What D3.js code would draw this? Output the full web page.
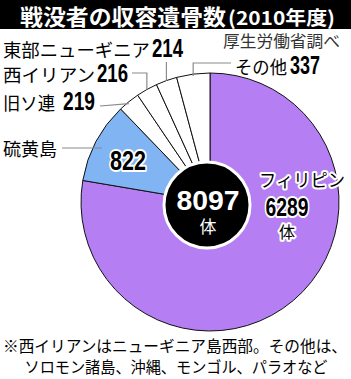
<!DOCTYPE html>
<html><head><meta charset="utf-8">
<script src="https://cdn.jsdelivr.net/npm/d3@7"></script>
<style>
body{margin:0;background:#fff;}
svg{display:block;}
</style></head>
<body>
<svg id="c" width="351" height="379"></svg>
<script>
const categories = ["フィリピン","硫黄島","旧ソ連","西イリアン","東部ニューギニア","その他"];
const values = [6289, 822, 219, 216, 214, 337];
const total = 8097;
const title = "戦没者の収容遺骨数";
const titleYear = "(2010年度)";
const source = "厚生労働省調べ";
const unit = "体";
const notes = ["※西イリアンはニューギニア島西部。その他は、","ソロモン諸島、沖縄、モンゴル、パラオなど"];
const colors = ["#b57ff3","#80b4f3","#ffffff","#ffffff","#ffffff","#ffffff"];

const JP = "'Noto Sans CJK JP','Noto Sans',sans-serif";
const NUM = "'Liberation Sans',Arial,sans-serif";
const svg = d3.select("#c");

function txt(x,y,s,opt){
  const t = svg.append("text").attr("x",x).attr("y",y).text(s)
    .attr("text-anchor",opt.anchor||"start").attr("fill",opt.fill||"#000")
    .style("font-family",opt.fam||JP).style("font-size",opt.size||"18px")
    .style("font-weight",opt.weight||"normal");
  if(opt.len){t.attr("textLength",opt.len).attr("lengthAdjust","spacingAndGlyphs");}
  if(opt.halo){t.attr("stroke","#fff").attr("stroke-width",opt.halo).attr("stroke-linejoin","round").attr("paint-order","stroke");}
  return t;
}

// title bar
svg.append("rect").attr("x",0).attr("y",0).attr("width",351).attr("height",29).attr("fill","#000");
txt(20,25,title,{size:"22px",weight:"bold",fill:"#fff",len:206});
txt(228,25,titleYear,{size:"19px",weight:"bold",fill:"#fff",len:107});

const cx = 210, cy = 202, R = 129;
const pie = d3.pie().sort(null).value(d=>d)(values);
const arc = d3.arc().innerRadius(0).outerRadius(R);
const g = svg.append("g").attr("transform",`translate(${cx},${cy})`);
g.selectAll("path").data(pie).join("path")
  .attr("d",arc).attr("fill",(d,i)=>colors[i])
  .attr("stroke","#111").attr("stroke-width",1);

function edge(i){const a=(pie[i].startAngle+pie[i].endAngle)/2;return [cx+R*Math.sin(a), cy-R*Math.cos(a)];}
const lc = "#8a8a8a";
function line(pts){svg.append("path").attr("d",d3.line()(pts)).attr("fill","none").attr("stroke",lc).attr("stroke-width",1.2);}

let e;
e = edge(4); line([[e[0],62],[e[0],e[1]]]);
e = edge(3); line([[132,73],[e[0],73],[e[0],e[1]]]);
e = edge(2); line([[100,106],[e[0],e[1]+2]]);
line([[62,148],[102,148]]);
e = edge(5); line([[231,63],[e[0],63],[e[0],e[1]+2]]);

// left labels
txt(3,57,categories[4],{size:"18px",len:147});
txt(152,57,values[4],{fam:NUM,size:"26px",weight:"bold",len:31});
txt(3,82,categories[3],{size:"18px",len:92});
txt(97,82,values[3],{fam:NUM,size:"26px",weight:"bold",len:31});
txt(3,110,categories[2],{size:"18px",len:52});
txt(63,110,values[2],{fam:NUM,size:"26px",weight:"bold",len:32});
txt(3,156,categories[1],{size:"18px",len:54});

// source & その他
txt(223,47,source,{size:"16px",fill:"#333",len:117});
txt(235,74,categories[5],{size:"18px",len:52});
txt(290,74,values[5],{fam:NUM,size:"26px",weight:"bold",len:30});

// 822 in blue
txt(128,170,values[1],{anchor:"middle",fam:NUM,size:"27px",weight:"bold",len:36,halo:4});

// Philippines
txt(302,187,categories[0],{anchor:"middle",size:"18px",len:86,halo:4});
txt(287,216,values[0],{anchor:"middle",fam:NUM,size:"26px",weight:"bold",len:43,halo:4});
txt(287,238,unit,{anchor:"middle",size:"16px",halo:4});

// center circle
svg.append("circle").attr("cx",207).attr("cy",205).attr("r",43)
  .attr("fill","#000").attr("stroke","#fff").attr("stroke-width",3);
txt(208,210,total,{anchor:"middle",fam:NUM,size:"28px",weight:"bold",fill:"#fff",len:63});
txt(208,233,unit,{anchor:"middle",size:"17px",fill:"#fff"});

// notes
txt(3,352,notes[0],{size:"15.6px",len:344});
txt(176,373,notes[1],{anchor:"middle",size:"15.6px",len:303});
</script>
</body></html>
